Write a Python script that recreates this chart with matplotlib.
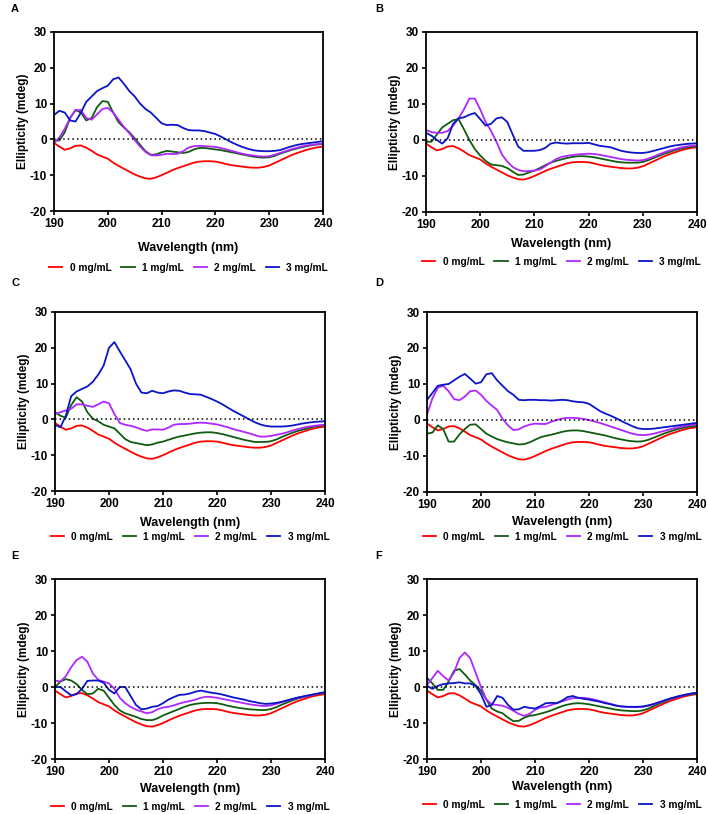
import numpy as np
import matplotlib
matplotlib.use("Agg")
import matplotlib.pyplot as plt

plt.rcParams['font.family'] = ['Liberation Sans', 'DejaVu Sans']
plt.rcParams['font.weight'] = 'bold'
plt.rcParams['axes.unicode_minus'] = False

wavelength = np.arange(190, 241, 1)

# 0 mg/mL reference, same trace in every panel
zero_mg = [-1, -2, -2.9, -2.5, -1.8, -1.7, -2.3, -3.2, -4.2, -4.8, -5.4, -6.5, -7.4, -8.2, -9.0, -9.8, -10.4,
           -10.9, -11.0, -10.6, -10.0, -9.3, -8.6, -8.0, -7.5, -7.0, -6.5, -6.2, -6.1, -6.1, -6.2, -6.5, -6.9,
           -7.2, -7.4, -7.6, -7.8, -7.9, -7.9, -7.7, -7.3, -6.6, -5.9, -5.2, -4.5, -3.9, -3.4, -2.9, -2.5, -2.2, -2.0]

a_1 = [-0.3, -0.3, 2, 6, 8.2, 7.5, 5.3, 6, 9, 10.7, 10.5, 7.5, 4.8, 3.3, 2, 0.3, -1.5, -3.3, -4.3, -4.2, -3.6,
       -3.2, -3.4, -3.6, -3.8, -3.5, -2.8, -2.4, -2.4, -2.6, -2.8, -3.0, -3.3, -3.6, -3.9, -4.2, -4.5, -4.8, -5.0,
       -5.1, -5.0, -4.6, -4.0, -3.5, -3.0, -2.6, -2.2, -1.9, -1.6, -1.4, -1.3]
a_2 = [-1, 0.5, 3, 6, 8.2, 8.2, 6, 5.5, 7, 8.5, 8.8, 7.5, 5.5, 3.5, 1.7, -0.2, -2, -3.5, -4.4, -4.5, -4.3, -4.0,
       -4.1, -4.0, -3.3, -2.3, -1.9, -1.8, -1.9, -2.0, -2.1, -2.4, -2.8, -3.2, -3.6, -4.0, -4.3, -4.5, -4.7, -4.8,
       -4.7, -4.3, -3.8, -3.3, -2.8, -2.4, -2.0, -1.7, -1.5, -1.3, -1.2]
a_3 = [6.8, 8, 7.5, 5.3, 5, 7.5, 10.5, 12, 13.5, 14.3, 15, 16.8, 17.3, 15.5, 13.5, 12, 10, 8.5, 7.5, 6, 4.5, 4,
       4.1, 4, 3.2, 2.6, 2.5, 2.5, 2.3, 1.9, 1.5, 0.8, 0, -0.8, -1.5, -2.1, -2.6, -3.0, -3.2, -3.3, -3.3, -3.2,
       -3.0, -2.5, -2.0, -1.6, -1.3, -1.1, -0.9, -0.7, -0.5]

b_1 = [-0.5, -0.5, 1.5, 3.5, 4.5, 5.5, 5.8, 3, 0, -2.5, -4.3, -5.8, -6.8, -7, -7.2, -7.8, -8.8, -9.7, -9.6, -9,
       -8.5, -7.8, -7, -6.3, -5.8, -5.4, -5.0, -4.7, -4.5, -4.5, -4.6, -4.8, -5.1, -5.4, -5.7, -6.0, -6.2, -6.3,
       -6.3, -6.3, -6.1, -5.6, -5.0, -4.4, -3.8, -3.3, -2.8, -2.4, -2.1, -1.9, -1.7]
b_2 = [2.8, 2.2, 2, 2, 2.5, 4, 6, 8.5, 11.5, 11.5, 8.5, 5, 2.5, -0.5, -4, -6, -7.5, -8.3, -8.7, -8.6, -8.5, -8.2,
       -7.3, -6.3, -5.3, -4.7, -4.4, -4.2, -4.0, -3.9, -3.8, -3.9, -4.1, -4.4, -4.7, -5.0, -5.3, -5.5, -5.6, -5.7,
       -5.6, -5.2, -4.6, -4.0, -3.4, -2.9, -2.5, -2.1, -1.8, -1.6, -1.5]
b_3 = [2, 1.2, 0, -1, 0.5, 4.5, 6, 6.3, 7, 7.5, 5.8, 4, 4.5, 6, 6.3, 5, 1.5, -1.8, -3, -3, -3, -2.8, -2.2, -1,
       -0.7, -0.9, -1, -0.9, -0.9, -0.9, -0.8, -1.2, -1.6, -1.8, -2.0, -2.5, -3.0, -3.3, -3.5, -3.6, -3.6, -3.4,
       -3.0, -2.6, -2.2, -1.8, -1.5, -1.3, -1.1, -1.0, -0.9]

c_1 = [2, 1, 0.5, 4, 6.2, 5, 2, 0.2, -0.5, -1.5, -2, -2.5, -4, -5.5, -6.3, -6.6, -6.9, -7.2, -7.0, -6.5, -6.2,
       -5.7, -5.2, -4.8, -4.5, -4.2, -3.9, -3.7, -3.6, -3.6, -3.8, -4.1, -4.5, -4.9, -5.3, -5.7, -6.0, -6.3, -6.3,
       -6.3, -6.1, -5.6, -4.9, -4.3, -3.7, -3.2, -2.8, -2.4, -2.0, -1.8, -1.6]
c_2 = [1.5, 2, 2.5, 3, 4.2, 4.2, 3.8, 3.5, 4.2, 5, 4.5, 1.5, -1, -1.5, -1.8, -2.2, -2.8, -3.2, -2.8, -2.8, -2.9,
       -2.3, -1.5, -1.3, -1.3, -1.2, -1.0, -0.9, -1.0, -1.2, -1.4, -1.8, -2.2, -2.7, -3.1, -3.5, -3.9, -4.4, -4.8,
       -4.8, -4.6, -4.3, -4.0, -3.6, -3.1, -2.7, -2.3, -2.0, -1.8, -1.6, -1.5]
c_3 = [-1.5, -2.2, 1, 6.5, 7.8, 8.5, 9.2, 10.5, 12.5, 15, 20, 21.6, 19, 16.5, 14, 10, 7.5, 7.3, 8, 7.5, 7.3, 7.8,
       8.1, 8, 7.5, 7.1, 7.0, 6.9, 6.3, 5.7, 5.0, 4.2, 3.3, 2.4, 1.6, 0.8, 0, -0.8, -1.4, -1.8, -2.0, -2.0, -2.0,
       -1.9, -1.7, -1.4, -1.1, -0.9, -0.7, -0.6, -0.5]

d_1 = [-3.8, -3.5, -1.5, -2.5, -6, -6, -4, -2.5, -1.3, -1.2, -2.5, -3.8, -4.6, -5.3, -5.8, -6.2, -6.5, -6.8, -6.7,
       -6.2, -5.5, -4.8, -4.4, -4.1, -3.7, -3.3, -3.0, -2.9, -2.9, -3.1, -3.4, -3.7, -4.0, -4.3, -4.7, -5.1, -5.4,
       -5.7, -5.9, -6.0, -5.9, -5.5, -4.9, -4.3, -3.7, -3.2, -2.7, -2.3, -2.0, -1.8, -1.6]
d_2 = [1.5, 6, 9, 9.5, 8, 5.8, 5.5, 6.5, 8, 8.2, 7, 5.3, 4, 2.8, 0.3, -1.5, -2.8, -2.6, -1.8, -1.3, -1.0, -1.1,
       -1.1, -0.5, 0, 0.4, 0.6, 0.6, 0.5, 0.3, 0, -0.4, -0.8, -1.3, -1.8, -2.3, -2.8, -3.3, -3.8, -4.1, -4.2,
       -4.1, -3.8, -3.4, -3.0, -2.6, -2.2, -1.9, -1.6, -1.4, -1.2]
d_3 = [5.6, 7.5, 9.5, 9.8, 10, 11, 12, 12.8, 11.5, 10.1, 10.5, 12.7, 13, 11, 9.5, 8, 7, 5.6, 5.5, 5.6, 5.6, 5.5,
       5.5, 5.4, 5.5, 5.6, 5.5, 5.2, 5.0, 4.9, 4.5, 3.5, 2.5, 1.8, 1.2, 0.5, -0.3, -1.0, -1.7, -2.3, -2.5, -2.5,
       -2.4, -2.2, -2.0, -1.8, -1.6, -1.4, -1.2, -1.0, -0.8]

e_1 = [0, 1.5, 2.2, 1.8, 0.8, -0.8, -2, -1.8, -0.5, -1, -3, -5, -6.5, -7.3, -7.8, -8.3, -8.9, -9.2, -9.2, -8.7,
       -7.9, -7.3, -6.7, -6.1, -5.5, -5.0, -4.7, -4.5, -4.4, -4.4, -4.5, -4.8, -5.2, -5.5, -5.8, -6.0, -6.2, -6.3,
       -6.4, -6.4, -6.1, -5.6, -4.9, -4.3, -3.7, -3.2, -2.8, -2.4, -2.1, -1.9, -1.7]
e_2 = [1.8, 1.5, 3, 5.5, 7.5, 8.4, 7, 3.8, 2, 1.5, 1, -0.5, -3, -4.5, -5.5, -6.3, -6.8, -7.3, -7.0, -6.2, -5.7,
       -5.5, -5.1, -4.6, -4.2, -3.9, -3.5, -3.0, -2.7, -2.8, -3.0, -3.3, -3.6, -3.9, -4.2, -4.5, -4.8, -5.0, -5.2,
       -5.3, -5.1, -4.7, -4.2, -3.8, -3.4, -3.0, -2.7, -2.4, -2.1, -1.8, -1.6]
e_3 = [0, 0, -1.2, -2.3, -2.0, -0.5, 1.7, 1.8, 1.8, 1.2, -0.8, -1.8, 0, 0, -2.5, -5, -6.2, -6, -5.5, -5.3, -4.5,
       -3.5, -2.8, -2.2, -2.1, -1.8, -1.3, -1.0, -1.3, -1.6, -1.8, -2.1, -2.5, -2.9, -3.2, -3.5, -3.9, -4.2, -4.5,
       -4.7, -4.6, -4.4, -4.1, -3.7, -3.3, -2.9, -2.6, -2.3, -2.0, -1.7, -1.4]

f_1 = [2.5, 1, -0.8, -0.8, 1.5, 4.5, 5, 3.5, 1.8, 0.5, -1, -3.5, -6, -6.8, -7.3, -8.5, -9.5, -9.4, -8.5, -8.0,
       -7.8, -7.4, -7.0, -6.5, -5.9, -5.3, -4.9, -4.6, -4.5, -4.6, -4.8, -5.1, -5.4, -5.7, -6.0, -6.3, -6.5, -6.6,
       -6.7, -6.7, -6.5, -6.0, -5.3, -4.6, -4.0, -3.4, -2.9, -2.5, -2.2, -2.0, -1.8]
f_2 = [0.5, 2.5, 4.5, 3, 1.8, 4, 8, 9.6, 8, 4, 0, -3.5, -4.8, -5, -5.2, -5.8, -6.6, -7.5, -8.0, -7.5, -6.3, -5.7,
       -5.5, -5.0, -4.5, -4.0, -3.5, -3.1, -3.0, -3.0, -3.2, -3.5, -3.9, -4.3, -4.7, -5.1, -5.4, -5.5, -5.6, -5.6,
       -5.5, -5.2, -4.8, -4.3, -3.8, -3.3, -2.9, -2.5, -2.1, -1.8, -1.6]
f_3 = [0.3, -0.5, 0.3, 0.8, 1, 1.1, 1.3, 1, 1, 0.3, -2, -5.5, -5, -2.5, -3, -5, -6.3, -6.2, -5.5, -5.8, -6, -5.3,
       -4.5, -4.4, -4.5, -3.8, -2.8, -2.5, -3.0, -3.3, -3.5, -3.8, -4.1, -4.5, -4.8, -5.2, -5.4, -5.5, -5.5, -5.5,
       -5.4, -5.1, -4.7, -4.2, -3.7, -3.2, -2.8, -2.4, -2.1, -1.8, -1.6]

panel_names = ["A", "B", "C", "D", "E", "F"]
panel_series = [[a_1, a_2, a_3], [b_1, b_2, b_3], [c_1, c_2, c_3],
                [d_1, d_2, d_3], [e_1, e_2, e_3], [f_1, f_2, f_3]]
labels = ["0 mg/mL", "1 mg/mL", "2 mg/mL", "3 mg/mL"]
colors = ["#ff0000", "#0f5c0f", "#b026ff", "#0a14c8"]

W, H = 708, 814
# axes boxes in pixels: left, top, right, bottom
boxes = [(54, 32, 323, 211), (426, 32, 697, 212),
         (55, 312, 325, 491), (427, 312, 697, 492),
         (55, 579, 325, 759), (427, 579, 697, 759)]
xlabel_y = [248, 244, 523, 522, 789, 787]
legend_y = [268, 262, 537, 537, 807, 805]
letter_pos = [(11, 9), (375, 9), (11, 283), (375, 283), (11, 556), (375, 556)]

fig = plt.figure(figsize=(W / 100, H / 100), dpi=100)

for i in range(6):
    l, t, r, b = boxes[i]
    ax = fig.add_axes([l / W, 1 - b / H, (r - l) / W, (b - t) / H])
    series = [zero_mg] + panel_series[i]
    for s, c, lab in zip(series, colors, labels):
        ax.plot(wavelength, s, color=c, lw=1.3, label=lab)
    ax.axhline(0, color="black", ls=(0, (1, 2)), lw=1.1)
    ax.set_xlim(190, 240)
    ax.set_ylim(-20, 30)
    ax.set_xticks([190, 200, 210, 220, 230, 240])
    ax.set_yticks([-20, -10, 0, 10, 20, 30])
    ax.tick_params(direction="out", length=3, width=1.2, labelsize=8.5, pad=2)
    for lbl in ax.get_xticklabels() + ax.get_yticklabels():
        lbl.set_fontweight("bold")
    for sp in ax.spines.values():
        sp.set_linewidth(1.3)
    ax.set_xlabel("Wavelength (nm)", fontsize=9, fontweight="bold")
    ax.set_ylabel("Ellipticity (mdeg)", fontsize=8.5, fontweight="bold")
    ax.xaxis.set_label_coords(0.5, (b - (xlabel_y[i] - 6)) / (b - t))
    ax.yaxis.set_label_coords(-25 / (r - l), 0.5)
    ax.legend(loc="center", bbox_to_anchor=(0.5, (b - legend_y[i]) / (b - t)), ncol=4, frameon=False,
              handlelength=1.3, columnspacing=1.0, handletextpad=0.7, borderpad=0.2,
              prop={"weight": "bold", "size": 7.3})
    fig.text(letter_pos[i][0] / W, 1 - letter_pos[i][1] / H, panel_names[i], fontsize=8,
             fontweight="bold", ha="left", va="center")

fig.savefig("out.png", dpi=100)
